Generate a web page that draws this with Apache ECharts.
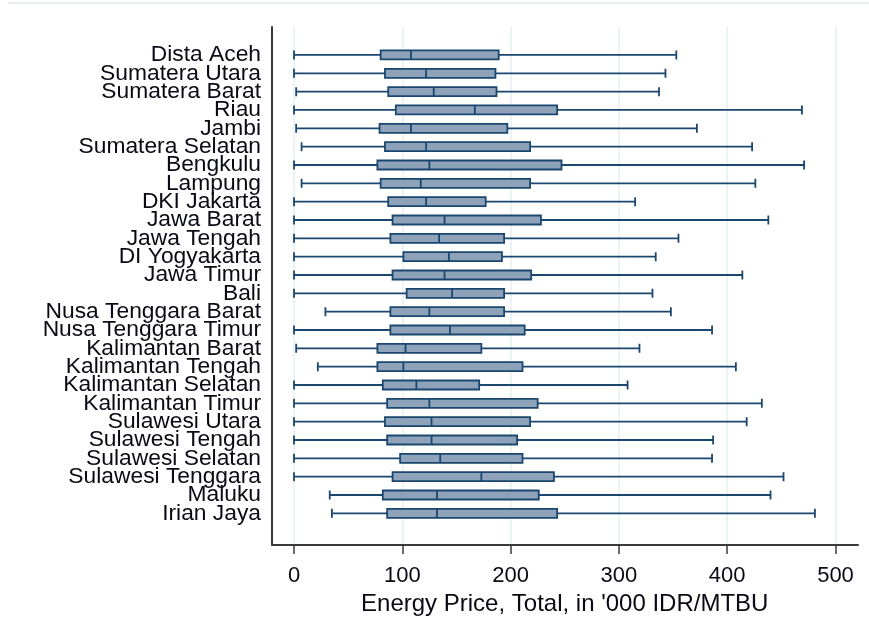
<!DOCTYPE html>
<html>
<head>
<meta charset="utf-8">
<script src="https://cdn.jsdelivr.net/npm/echarts@6/dist/echarts.min.js"></script>
<style>
  html, body { margin: 0; padding: 0; background: #fff; }
  #chartContainer { width: 869px; height: 634px; }
</style>
</head>
<body>
<div id="chartContainer"></div>
<script>
// provinces, top to bottom
const provinces = [
  'Dista Aceh', 'Sumatera Utara', 'Sumatera Barat', 'Riau', 'Jambi',
  'Sumatera Selatan', 'Bengkulu', 'Lampung', 'DKI Jakarta', 'Jawa Barat',
  'Jawa Tengah', 'DI Yogyakarta', 'Jawa Timur', 'Bali', 'Nusa Tenggara Barat',
  'Nusa Tenggara Timur', 'Kalimantan Barat', 'Kalimantan Tengah', 'Kalimantan Selatan',
  'Kalimantan Timur', 'Sulawesi Utara', 'Sulawesi Tengah', 'Sulawesi Selatan',
  'Sulawesi Tenggara', 'Maluku', 'Irian Jaya'
];

// box statistics, '000 IDR/MTBU
const lowerWhisker = [0, 0, 2, 0, 2, 7, 0, 7, 0, 0, 0, 0, 0, 0, 29, 0, 2, 22, 0, 0, 0, 0, 0, 0, 33, 35];
const quartile1 = [80, 84, 87, 94, 79, 84, 77, 80, 87, 91, 89, 101, 91, 104, 89, 89, 77, 77, 82, 86, 84, 86, 98, 91, 82, 86];
const medians = [108, 122, 129, 167, 108, 122, 125, 117, 122, 139, 134, 143, 139, 146, 125, 144, 103, 101, 113, 125, 127, 127, 135, 173, 132, 132];
const quartile3 = [189, 186, 187, 243, 197, 218, 247, 218, 177, 228, 194, 192, 219, 194, 194, 213, 173, 211, 171, 225, 218, 206, 211, 240, 226, 243];
const upperWhisker = [353, 343, 337, 469, 372, 423, 471, 426, 315, 438, 355, 334, 414, 331, 348, 386, 319, 408, 308, 432, 418, 387, 386, 452, 440, 481];

const xTicks = [0, 100, 200, 300, 400, 500];

const boxData = provinces.map((p, i) => [
  lowerWhisker[i], quartile1[i], medians[i], quartile3[i], upperWhisker[i]
]);

const chartDom = document.getElementById('chartContainer');
const myChart = echarts.init(chartDom);

const axisColor = '#3a3a3a';
const textColor = '#0a0a14';
const fontFamily = '"Liberation Sans", Arial, sans-serif';

const option = {
  animation: false,
  backgroundColor: '#ffffff',
  graphic: [
    {
      type: 'line',
      shape: { x1: 8, y1: 3, x2: 869, y2: 3 },
      style: { stroke: '#e8edf0', lineWidth: 2 },
      silent: true
    }
  ],
  grid: [
    // frame with the two axis lines
    { left: 272, right: 11, top: 27, bottom: 89, outerBoundsMode: 'none' },
    // value scale: ticks, labels, grid lines
    { left: 294, right: 33.5, top: 27, bottom: 89, outerBoundsMode: 'none' },
    // boxes
    { left: 294, right: 33.5, top: 45.8, bottom: 111.5, outerBoundsMode: 'none' }
  ],
  xAxis: [
    {
      gridIndex: 0, type: 'value', min: 0, max: 1,
      axisLine: { show: true, onZero: false, lineStyle: { color: axisColor, width: 2 } },
      axisTick: { show: false }, axisLabel: { show: false }, splitLine: { show: false }
    },
    {
      gridIndex: 1, type: 'value', min: xTicks[0], max: xTicks[xTicks.length - 1], interval: 100,
      axisLine: { show: false },
      axisTick: { show: true, length: 9, lineStyle: { color: axisColor, width: 1.5 } },
      axisLabel: { color: textColor, fontSize: 22, margin: 20, fontFamily: fontFamily },
      splitLine: { show: true, lineStyle: { color: '#e6eff1', width: 1.5 } },
      name: "Energy Price, Total, in '000 IDR/MTBU",
      nameLocation: 'middle',
      nameGap: 46,
      nameTextStyle: { color: textColor, fontSize: 24, fontFamily: fontFamily }
    },
    {
      gridIndex: 2, type: 'value', min: 0, max: 500, show: false
    }
  ],
  yAxis: [
    {
      gridIndex: 0, type: 'value', min: 0, max: 1,
      axisLine: { show: true, onZero: false, lineStyle: { color: axisColor, width: 2 } },
      axisTick: { show: false }, axisLabel: { show: false }, splitLine: { show: false }
    },
    { gridIndex: 1, type: 'value', show: false },
    {
      gridIndex: 2, type: 'category', data: provinces, inverse: true,
      axisLine: { show: false }, axisTick: { show: false }, splitLine: { show: false },
      axisLabel: {
        interval: 0, hideOverlap: false, margin: 33,
        color: textColor, fontSize: 22.8, fontFamily: fontFamily
      }
    }
  ],
  series: [
    {
      name: 'Energy Price',
      type: 'boxplot',
      xAxisIndex: 2,
      yAxisIndex: 2,
      boxWidth: [9, 9],
      itemStyle: {
        color: '#8ea3ba',
        borderColor: '#1a476f',
        borderWidth: 1.8
      },
      data: boxData
    }
  ]
};

myChart.setOption(option);

window.addEventListener('resize', () => myChart.resize());
</script>
</body>
</html>
